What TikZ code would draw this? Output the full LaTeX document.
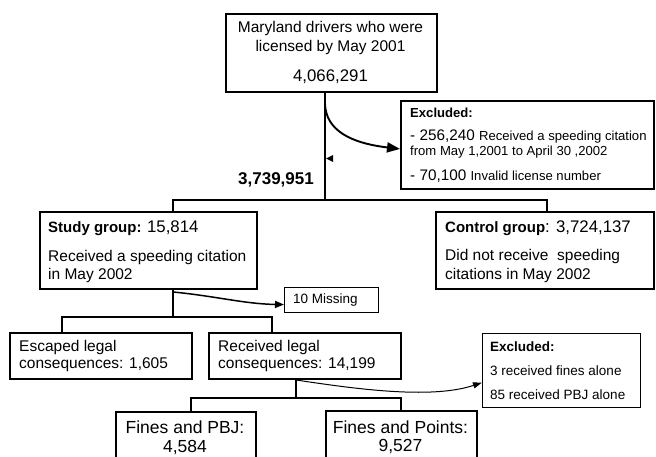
\documentclass[tikz,border=0pt]{standalone}
\usepackage{fontspec}
\setmainfont{Liberation Sans}
\usetikzlibrary{arrows.meta}
\newcommand\fA{\fontsize{15.5}{18}\selectfont}
\newcommand\fN{\fontsize{16.8}{20}\selectfont}
\newcommand\fE{\fontsize{15.3}{18}\selectfont}
\newcommand\fS{\fontsize{13.5}{16}\selectfont}
\newcommand\fT{\fontsize{13.1}{16}\selectfont}
\newcommand\fL{\fontsize{17.5}{21}\selectfont}
\newcommand\fB{\fontsize{15}{18}\selectfont\bfseries}
\tikzset{
  box/.style={draw, line width=1.9pt, rectangle, inner sep=0pt, anchor=north west},
  thinbox/.style={draw, line width=1.1pt, rectangle, inner sep=0pt, anchor=north west},
  conn/.style={line width=1.9pt},
  txt/.style={inner sep=0pt, anchor=west},
  ctxt/.style={inner sep=0pt, anchor=center},
}
\begin{document}
\begin{tikzpicture}[x=1pt,y=-1pt]
\useasboundingbox (0,0) rectangle (656,457);
\clip (0,0) rectangle (656,457);
\fill[white] (0,0) rectangle (656,457);

% boxes
\node[box, minimum width=211, minimum height=78] (top) at (225,13) {};
\node[box, minimum width=253, minimum height=88] (ex1) at (400,100) {};
\node[box, minimum width=217, minimum height=77] (study) at (39,211) {};
\node[box, minimum width=218, minimum height=77] (control) at (435,211) {};
\node[thinbox, minimum width=94, minimum height=25] (miss) at (284,287) {};
\node[box, minimum width=182, minimum height=46] (esc) at (9,332) {};
\node[box, minimum width=192, minimum height=46] (rec) at (208,332) {};
\node[thinbox, minimum width=158, minimum height=74] (ex2) at (482,333) {};
\node[box, minimum width=140, minimum height=60] (fpbj) at (115,411) {};
\node[box, minimum width=151, minimum height=60] (fpts) at (325,410) {};

% texts
\node[ctxt] (t1) at (330.5,28) {\fA Maryland drivers who were};
\node[ctxt] (t2) at (330.5,47) {\fA licensed by May 2001};
\node[ctxt] (t3) at (330.5,77) {\fN 4,066,291};

\node[txt] (e1) at (410,113) {\fT\bfseries Excluded:};
\node[txt] (e2) at (410,137) {\fE - 256,240 \fT Received a speeding citation};
\node[txt] (e3) at (410,152) {\fT from May 1,2001 to April 30 ,2002};
\node[txt] (e4) at (410,176) {\fE - 70,100 \fT Invalid license number};

\node[inner sep=0pt, anchor=east] (n1) at (314,180) {\fontsize{17}{20}\selectfont\bfseries 3,739,951};

\node[txt] (s1) at (48,228) {\fB Study group: \fN\mdseries 15,814};
\node[txt] (s2) at (48,257) {\fA Received a speeding citation};
\node[txt] (s3) at (48,275) {\fA in May 2002};

\node[txt] (c1) at (445,228) {\fB Control group\fN\mdseries: 3,724,137};
\node[txt] (c2) at (445,256) {\fA Did not receive\ \ speeding};
\node[txt] (c3) at (445,275) {\fA citations in May 2002};

\node[txt] (m1) at (293,300) {\fS 10 Missing};

\node[txt] (es1) at (19,347) {\fA Escaped legal};
\node[txt] (es2) at (19,365) {\fA consequences: 1,605};
\node[txt] (r1) at (218,347) {\fA Received legal};
\node[txt] (r2) at (218,365) {\fA consequences: 14,199};

\node[txt] (x1) at (490,347) {\fS\bfseries Excluded:};
\node[txt] (x2) at (490,371) {\fS 3 received fines alone};
\node[txt] (x3) at (490,395) {\fS 85 received PBJ alone};

\node[ctxt] (f1) at (185,427) {\fL Fines and PBJ:};
\node[ctxt] (f2) at (185,448) {\fL 4,584};
\node[ctxt] (p1) at (400.5,427) {\fL Fines and Points:};
\node[ctxt] (p2) at (400.5,447) {\fL 9,527};

% connectors level 1
\coordinate (j1) at (325,200);
\coordinate (jS) at (173,200);
\coordinate (jC) at (547,200);
\draw[conn] (top.south -| j1) -- (j1);
\draw[conn] (study.north -| jS) -- (jS) -- (jC) -- (control.north -| jC);
\coordinate (a1) at (325,104);
\draw[conn, -{Triangle[length=13pt,width=10pt]}] (a1) .. controls (326,130) and (350,143) .. ([yshift=-4pt]ex1.west);
\fill (326,158.5) -- (333,155) -- (333,162) -- cycle;

% level 2
\coordinate (k1) at (173,317);
\coordinate (kE) at (62,317);
\coordinate (kR) at (272,317);
\draw[conn] (study.south -| k1) -- (k1);
\draw[conn] (esc.north -| kE) -- (kE) -- (kR) -- (rec.north -| kR);
\coordinate (a2) at (173,292);
\draw[line width=1.5pt, -{Triangle[length=9pt,width=7pt]}] (a2) .. controls (215,296) and (245,304) .. ([yshift=-4.5pt]miss.west);

% level 3
\coordinate (l1) at (296,398);
\coordinate (lP) at (191,398);
\coordinate (lQ) at (401,398);
\draw[conn] (rec.south -| l1) -- (l1);
\draw[conn] (fpbj.north -| lP) -- (lP) -- (lQ) -- (fpts.north -| lQ);
\coordinate (a3) at (296,380);
\draw[line width=1pt, -{Triangle[length=9pt,width=6pt]}] (a3) .. controls (350,388) and (430,400) .. ([yshift=-12pt]ex2.west);
\end{tikzpicture}
\end{document}
